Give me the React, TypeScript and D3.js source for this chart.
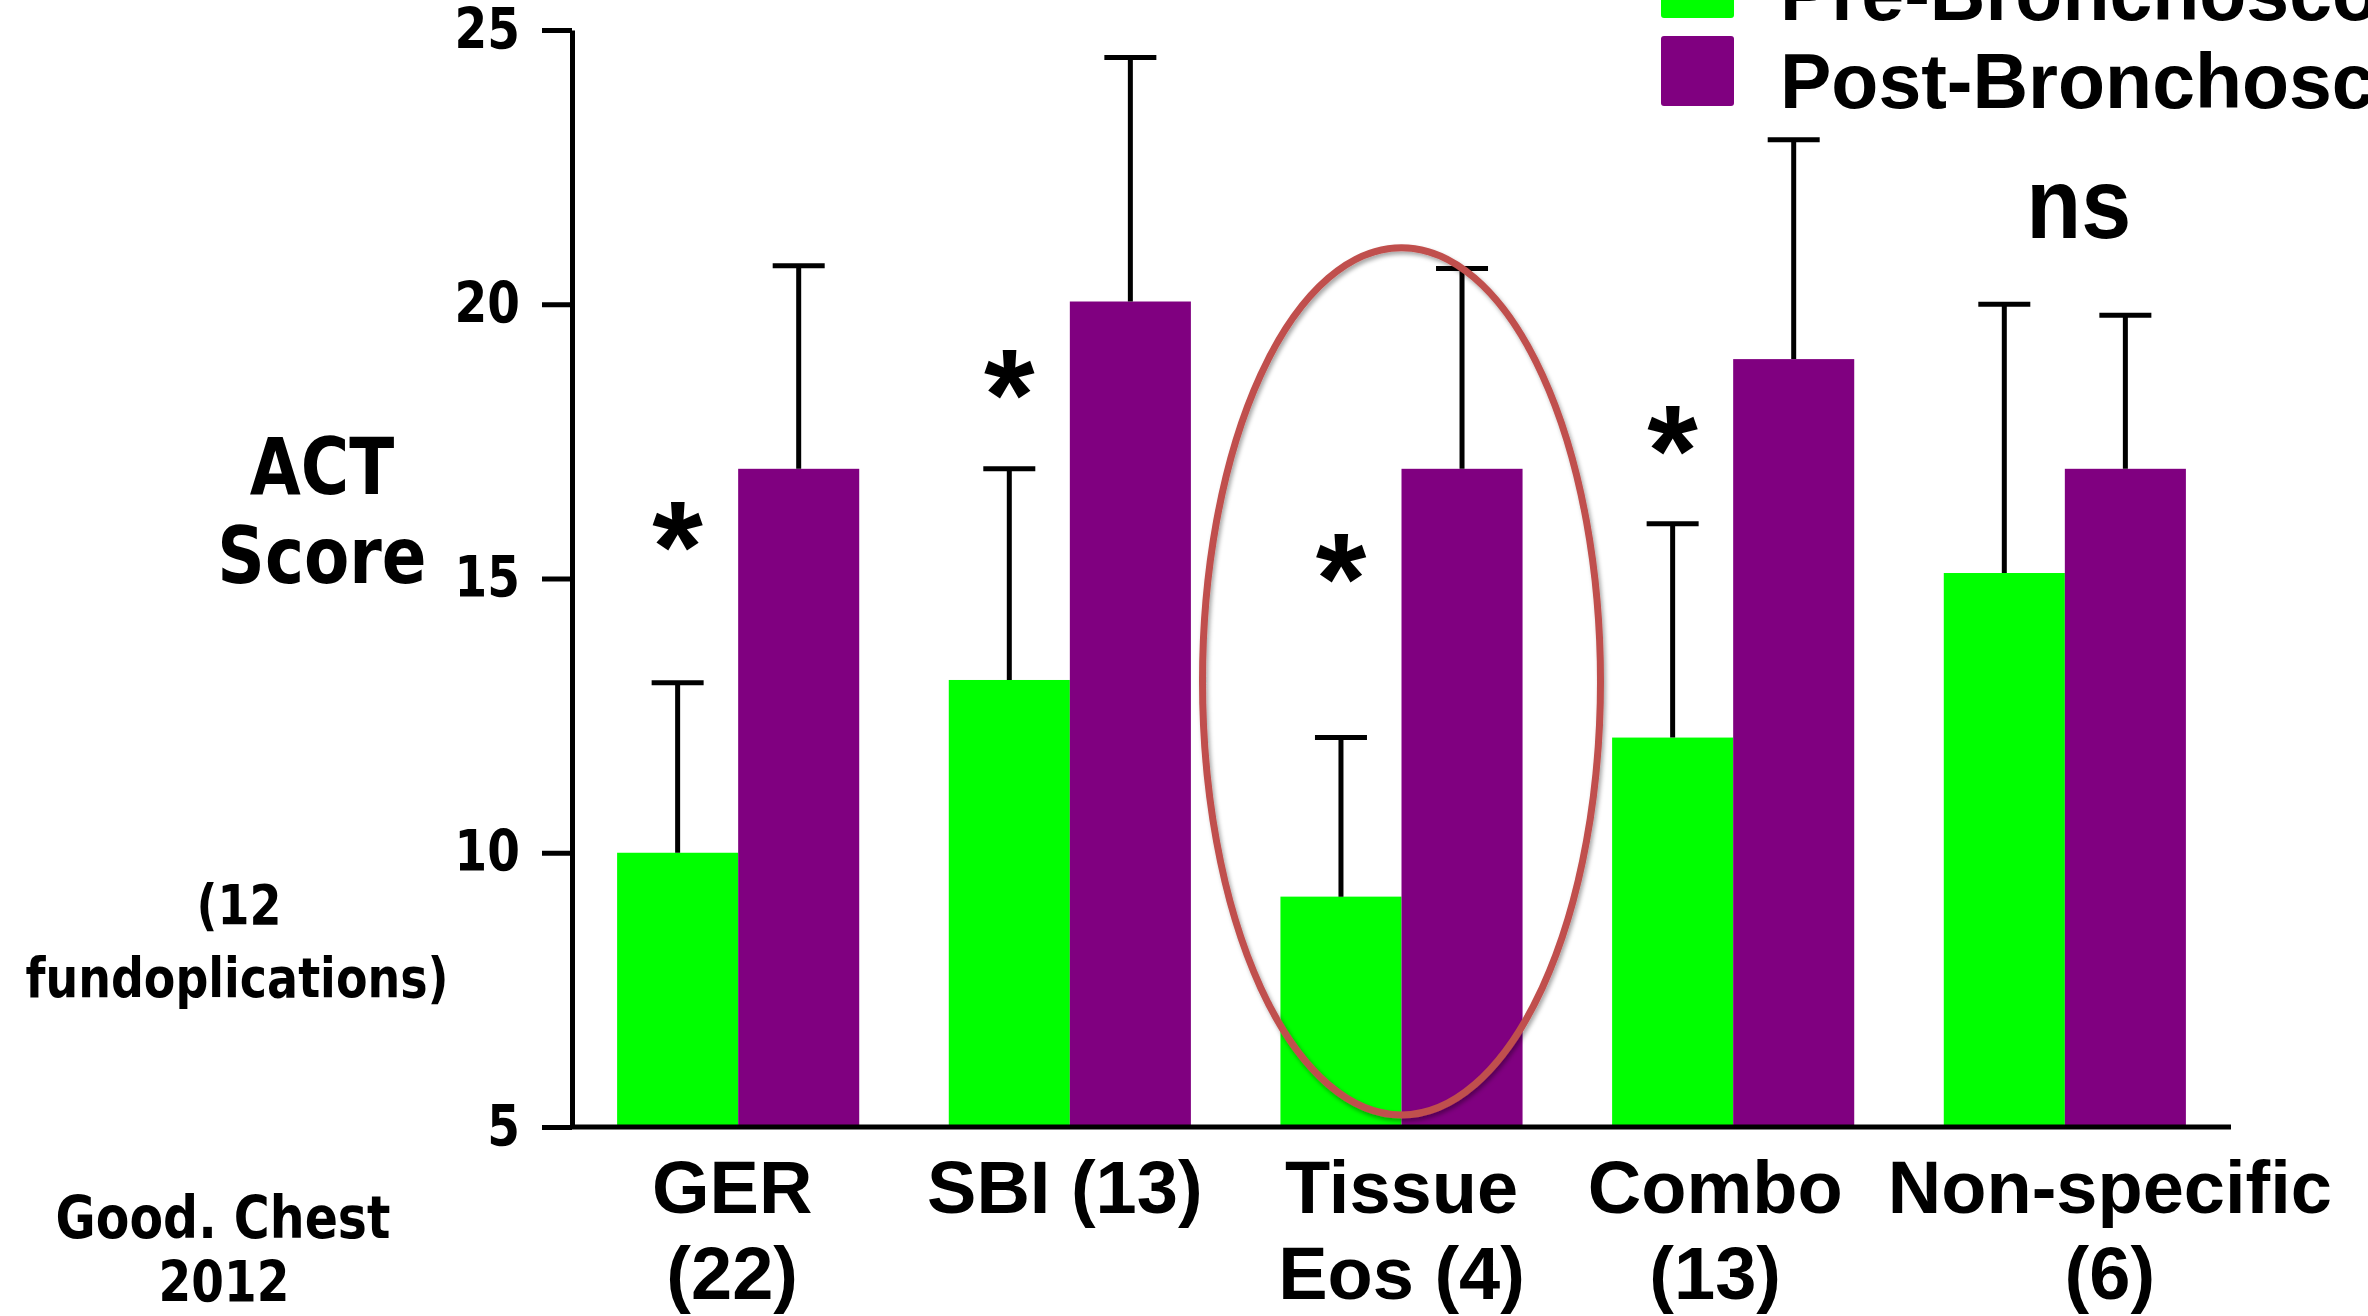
import { useEffect, useRef } from 'react';
import * as d3 from 'd3';

// ACT score before / after bronchoscopy, by diagnosis group
const categories = ['GER', 'SBI', 'Tissue', 'Combo', 'Non-specific'];
const labelLine1 = ['GER', 'SBI (13)', 'Tissue', 'Combo', 'Non-specific'];
const labelLine2 = ['(22)', '', 'Eos (4)', '(13)', '(6)'];
const preValues = [10, 13.15, 9.2, 12.1, 15.1];
const postValues = [17, 20.05, 17, 19, 17];
const preErr = [3.1, 3.85, 2.9, 3.9, 4.9];
const postErr = [3.7, 4.45, 3.65, 4.0, 2.8];
const sigMarks = ['*', '*', '*', '*', 'ns'];
const sigLevels = [15.9, 18.66, 15.3, 17.64, 21.8];
const yTicks = [5, 10, 15, 20, 25];
const seriesNames = ['Pre-Bronchoscopy', 'Post-Bronchoscopy'];
const seriesColors = ['#00ff00', '#800080'];
const highlightGroup = 'Tissue';
const highlightRange = [5.22, 21.03];

const W = 2368;
const H = 1316;
const ARIAL = '"Liberation Sans", Arial, sans-serif';
const VERDANA = '"DejaVu Sans", Verdana, sans-serif';

export default function App() {
    const svgRef = useRef<SVGSVGElement>(null);

    useEffect(() => {
        document.body.style.margin = '0';
        if (!svgRef.current) return;
        const svg = d3.select(svgRef.current);
        svg.selectAll('*').remove();

        const left = 572, right = 2231, top = 30, bottom = 1127;

        const x0 = d3.scaleBand<string>()
            .domain(categories)
            .range([left, right])
            .paddingInner(0.27)
            .paddingOuter(0.136);
        const x1 = d3.scaleBand<string>()
            .domain(['pre', 'post'])
            .range([0, x0.bandwidth()]);
        const y = d3.scaleLinear().domain([5, 25]).range([bottom, top]);

        svg.append('rect').attr('width', W).attr('height', H).attr('fill', '#fff');

        // bars + error bars
        const series = [
            { key: 'pre', values: preValues, err: preErr, color: seriesColors[0] },
            { key: 'post', values: postValues, err: postErr, color: seriesColors[1] },
        ];
        const capW = 52;
        series.forEach(s => {
            categories.forEach((c, i) => {
                const bx = x0(c)! + x1(s.key)!;
                const cx = bx + x1.bandwidth() / 2;
                svg.append('rect')
                    .attr('x', bx)
                    .attr('y', y(s.values[i]))
                    .attr('width', x1.bandwidth())
                    .attr('height', y(5) - y(s.values[i]) + 2)
                    .attr('fill', s.color);
                const yt = y(s.values[i] + s.err[i]);
                svg.append('line')
                    .attr('x1', cx).attr('x2', cx)
                    .attr('y1', y(s.values[i])).attr('y2', yt)
                    .attr('stroke', '#000').attr('stroke-width', 5);
                svg.append('line')
                    .attr('x1', cx - capW / 2).attr('x2', cx + capW / 2)
                    .attr('y1', yt).attr('y2', yt)
                    .attr('stroke', '#000').attr('stroke-width', 5);
            });
        });

        // y axis
        const yAxis = svg.append('g')
            .attr('transform', `translate(${left},0)`)
            .call(d3.axisLeft(y).tickValues(yTicks).tickSize(30).tickSizeOuter(0).tickPadding(22));
        yAxis.select('.domain').attr('stroke', '#000').attr('stroke-width', 5);
        yAxis.selectAll('.tick line').attr('stroke', '#000').attr('stroke-width', 5);
        yAxis.selectAll('.tick text')
            .attr('font-family', VERDANA)
            .attr('font-weight', 'bold')
            .attr('font-size', 47)
            .attr('fill', '#000')
            .attr('transform', 'scale(1,1.2)');

        // x axis line
        svg.append('line')
            .attr('x1', left - 2).attr('x2', right)
            .attr('y1', bottom).attr('y2', bottom)
            .attr('stroke', '#000').attr('stroke-width', 5);

        // category labels
        const nudge = [-6, -5, 0, -18, 45];
        categories.forEach((c, i) => {
            const cx = x0(c)! + x0.bandwidth() / 2 + nudge[i];
            svg.append('text')
                .attr('x', cx).attr('y', 1213)
                .attr('text-anchor', 'middle')
                .attr('font-family', ARIAL).attr('font-weight', 'bold').attr('font-size', 74)
                .text(labelLine1[i]);
            if (labelLine2[i]) {
                svg.append('text')
                    .attr('x', cx).attr('y', 1299)
                    .attr('text-anchor', 'middle')
                    .attr('font-family', ARIAL).attr('font-weight', 'bold').attr('font-size', 74)
                    .text(labelLine2[i]);
            }
        });

        // significance marks
        categories.forEach((c, i) => {
            const mark = sigMarks[i];
            if (mark === '*') {
                const cx = x0(c)! + x1('pre')! + x1.bandwidth() / 2;
                svg.append('text')
                    .attr('x', cx).attr('y', y(sigLevels[i]) + 0.48 * 130)
                    .attr('text-anchor', 'middle')
                    .attr('font-family', ARIAL).attr('font-weight', 'bold').attr('font-size', 130)
                    .text(mark);
            } else {
                const cx = x0(c)! + x0.bandwidth() / 2 + 14;
                const by = y(sigLevels[i]) + 32;
                svg.append('text')
                    .attr('x', cx).attr('y', by)
                    .attr('text-anchor', 'middle')
                    .attr('font-family', ARIAL).attr('font-weight', 'bold').attr('font-size', 90)
                    .attr('transform', `translate(0,${-by * 0.12}) scale(1,1.12)`)
                    .text(mark);
            }
        });

        // highlight ellipse
        const ey0 = y(highlightRange[0]);
        const ey1 = y(highlightRange[1]);
        const ecx = x0(highlightGroup)! + x0.bandwidth() / 2;
        const defs = svg.append('defs');
        const f = defs.append('filter').attr('id', 'shadow').attr('x', '-20%').attr('y', '-20%')
            .attr('width', '140%').attr('height', '140%');
        f.append('feDropShadow').attr('dx', 2).attr('dy', 3).attr('stdDeviation', 2)
            .attr('flood-color', '#000').attr('flood-opacity', 0.35);
        svg.append('ellipse')
            .attr('cx', ecx).attr('cy', (ey0 + ey1) / 2)
            .attr('rx', 199).attr('ry', (ey0 - ey1) / 2)
            .attr('fill', 'none')
            .attr('stroke', '#c0504d').attr('stroke-width', 7)
            .attr('filter', 'url(#shadow)');

        // left side text (DejaVu, stretched vertically)
        const stretched = (x: number, yy: number, txt: string, size: number) => {
            svg.append('text')
                .attr('transform', `translate(${x},${yy}) scale(1,1.2)`)
                .attr('text-anchor', 'middle')
                .attr('font-family', VERDANA).attr('font-weight', 'bold').attr('font-size', size)
                .text(txt);
        };
        stretched(322, 494, 'ACT', 66);
        stretched(322, 583, 'Score', 66);
        stretched(239, 924, '(12', 46);
        stretched(237, 997, 'fundoplications)', 46);
        stretched(223, 1238, 'Good. Chest', 49);
        stretched(224, 1302, '2012', 47);

        // legend (clipped at top/right edges, as in the source slide)
        const lx = 1661;
        const rowBottoms = [18, 106];
        seriesNames.forEach((name, i) => {
            svg.append('rect')
                .attr('x', lx).attr('y', rowBottoms[i] - 70)
                .attr('width', 73).attr('height', 70)
                .attr('rx', 3)
                .attr('fill', seriesColors[i]);
            svg.append('text')
                .attr('x', 1780).attr('y', rowBottoms[i] + 2)
                .attr('font-family', ARIAL).attr('font-weight', 'bold').attr('font-size', 77)
                .text(name);
        });
    }, []);

    return (
        <svg ref={svgRef} width={W} height={H} style={{ display: 'block' }} />
    );
}
